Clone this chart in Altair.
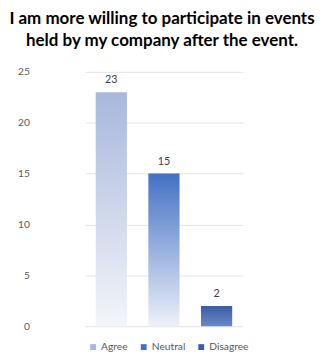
import altair as alt
import pandas as pd

categories = ["Agree", "Neutral", "Disagree"]
counts = [23, 15, 2]
top_colors = ["#a8b7dc", "#4471c4", "#3b5ca4"]
bottom_colors = ["#f3f5fa", "#eef1f9", "#6a88c5"]
y_ticks = [0, 5, 10, 15, 20, 25]

df = pd.DataFrame({"cat": categories, "count": counts})

FONT = "Lato"

x_enc = alt.X("cat:N", sort=categories, axis=None,
              scale=alt.Scale(range=[47, 209], paddingInner=0.407, paddingOuter=0.2035))
y_enc = alt.Y("count:Q", title=None,
              scale=alt.Scale(domain=[0, 25]),
              axis=alt.Axis(values=y_ticks, ticks=False, domain=False,
                            gridColor="#e3e3e3", labelColor="#595959",
                            labelFontSize=10.5, labelPadding=10, labelFont=FONT))

base = alt.Chart(df)

legend_layer = base.mark_bar(opacity=0).encode(
    x=x_enc, y=y_enc,
    color=alt.Color("cat:N", sort=categories,
                    scale=alt.Scale(domain=categories, range=top_colors),
                    legend=alt.Legend(title=None, orient="none", direction="horizontal",
                                      legendX=50, legendY=277,
                                      symbolType="square", symbolSize=36, symbolOpacity=1,
                                      symbolStrokeWidth=0,
                                      labelFontSize=10.5, labelColor="#595959", labelFont=FONT,
                                      labelOffset=3, columnPadding=11)),
)

layers = [legend_layer]
for c, t, b in zip(categories, top_colors, bottom_colors):
    layers.append(
        base.transform_filter(alt.datum.cat == c).mark_bar(
            fill=alt.Gradient(gradient="linear", x1=0, x2=0, y1=0, y2=1,
                              stops=[alt.GradientStop(offset=0, color=t),
                                     alt.GradientStop(offset=1, color=b)])
        ).encode(x=x_enc, y=y_enc)
    )

labels = base.mark_text(dy=-12, fontSize=11, color="#404040", font=FONT).encode(
    x=x_enc, y=y_enc, text="count:Q")
layers.append(labels)

chart = alt.layer(*layers).properties(
    width=256, height=261,
    autosize=alt.AutoSizeParams(type="none"),
    padding={"left": 32, "top": 61, "right": 28, "bottom": 26},
    title=alt.Title(["I am more willing to participate in events",
                     "held by my company after the event."],
                    fontSize=17.4, font=FONT, fontWeight="bold", color="#000000",
                    lineHeight=23, offset=18, anchor="middle", frame="group", dx=-2),
).configure_view(stroke=None)

chart.save("out.html", embed_options={"renderer": "svg", "actions": False})
